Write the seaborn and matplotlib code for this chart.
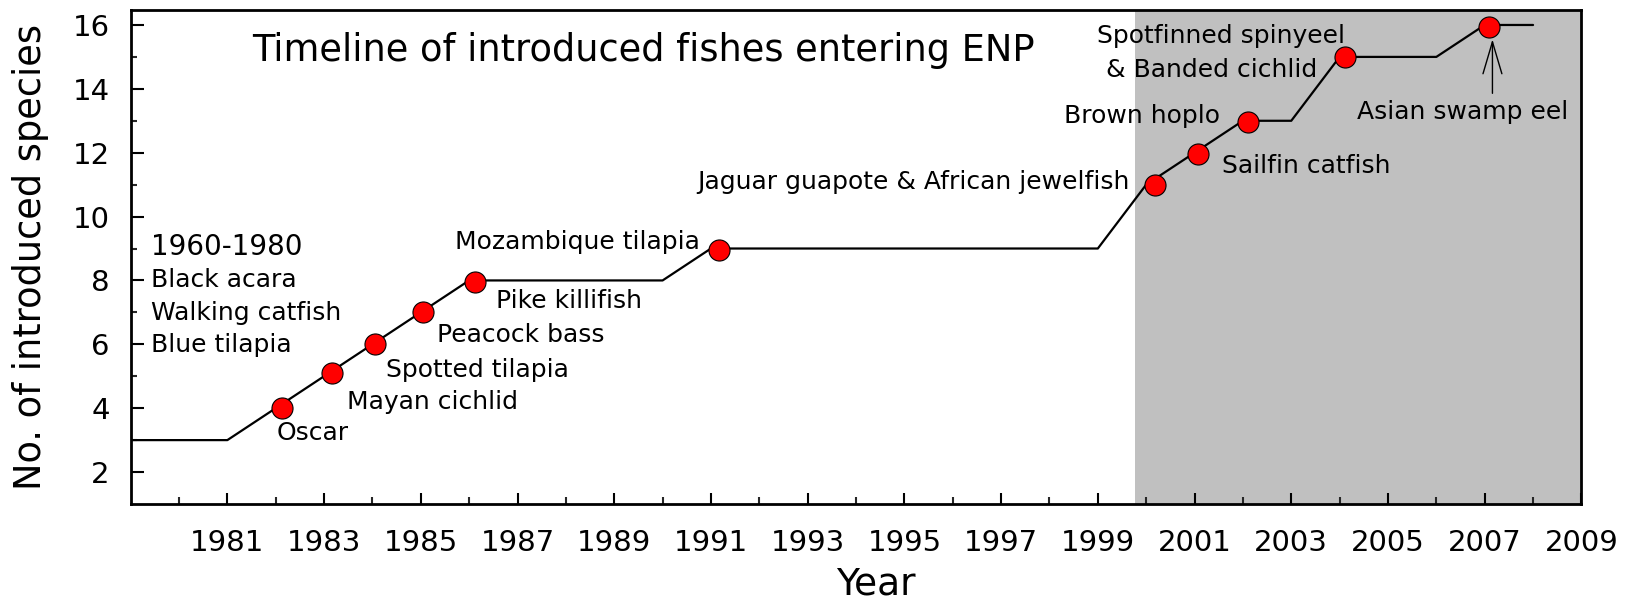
import matplotlib
matplotlib.use("Agg")
import matplotlib.pyplot as plt
from matplotlib.ticker import FixedLocator
import seaborn as sns
import numpy as np

# ---------------- data ----------------
line_years = [1979, 1981, 1986, 1990, 1991, 1999, 2000, 2001, 2002, 2003, 2004, 2006, 2007, 2008]
line_counts = [3, 3, 8, 8, 9, 9, 11, 12, 13, 13, 15, 15, 16, 16]

marker_years = [1982.13, 1983.16, 1984.06, 1985.04, 1986.13, 1991.16,
                2000.18, 2001.08, 2002.11, 2004.11, 2007.09]
marker_counts = [4, 5.1, 6, 7, 7.95, 8.95, 11, 11.95, 12.95, 15, 15.95]

species_labels = ["Oscar", "Mayan cichlid", "Spotted tilapia", "Peacock bass",
                  "Pike killifish", "Mozambique tilapia",
                  "Jaguar guapote & African jewelfish", "Sailfin catfish",
                  "Brown hoplo", "Spotfinned spinyeel", "& Banded cichlid",
                  "Asian swamp eel"]
early_header = "1960-1980"
early_species = ["Black acara", "Walking catfish", "Blue tilapia"]

xtick_major = list(range(1981, 2010, 2))
xtick_minor = list(range(1980, 2009, 2))
ytick_major = list(range(2, 17, 2))
ytick_minor = list(range(3, 16, 2))

title_text = "Timeline of introduced fishes entering ENP"
x_label = "Year"
y_label = "No. of introduced species"

# ---------------- layout ----------------
label_pos = [  # (x, baseline y, ha)
    (1982.01, 3.01, "left"),
    (1983.47, 3.98, "left"),
    (1984.29, 4.97, "left"),
    (1985.34, 6.06, "left"),
    (1986.56, 7.13, "left"),
    (1985.71, 8.98, "left"),
    (1990.72, 10.86, "left"),
    (2001.57, 11.36, "left"),
    (1998.31, 12.94, "left"),
    (2001.55, 15.43, "center"),
    (2001.35, 14.38, "center"),
    (2004.35, 13.05, "left"),
]
early_x = 1979.43
early_header_y = 8.80
early_y = [7.79, 6.77, 5.77]

sns.set_theme(style="white")
plt.rcParams['font.family'] = ['DejaVu Sans']
plt.rcParams['text.color'] = 'black'

fig = plt.figure(figsize=(16.31, 6.04), dpi=100)
ax = fig.add_axes([0.0801, 0.1656, 0.8895, 0.8179])

ax.axvspan(1999.77, 2009, color="#c0c0c0", zorder=0, lw=0)

sns.lineplot(x=line_years, y=line_counts, sort=False, color="black",
             linewidth=1.6, ax=ax, zorder=2)
sns.scatterplot(x=marker_years, y=marker_counts, s=230, color="#ff0000",
                edgecolor="black", linewidth=0.8, ax=ax, zorder=3)

ax.set_xlim(1979, 2009)
ax.set_ylim(1, 16.47)

ax.xaxis.set_major_locator(FixedLocator(xtick_major))
ax.xaxis.set_minor_locator(FixedLocator(xtick_minor))
ax.yaxis.set_major_locator(FixedLocator(ytick_major))
ax.yaxis.set_minor_locator(FixedLocator(ytick_minor))
ax.set_xticklabels([str(v) for v in xtick_major])
ax.set_yticklabels([str(v) for v in ytick_major])

ax.tick_params(axis="x", which="major", direction="in", length=8, width=1.5,
               bottom=True, top=False, labelsize=21, pad=18, colors="black")
ax.tick_params(axis="x", which="minor", direction="in", length=4.8, width=1.5,
               bottom=True, top=False)
ax.tick_params(axis="y", which="major", direction="in", length=9, width=1.5,
               left=True, right=False, labelsize=21, pad=15, colors="black")
ax.tick_params(axis="y", which="minor", direction="in", length=4.5, width=1.5,
               left=True, right=False)

for sp in ax.spines.values():
    sp.set_visible(True)
    sp.set_color("black")
    sp.set_linewidth(2)

ax.set_xlabel(x_label, fontsize=27, color="black")
ax.xaxis.set_label_coords(0.514, -0.2)
ax.xaxis.label.set_va("bottom")
ax.set_ylabel(y_label, fontsize=26.5, color="black")
ax.yaxis.set_label_coords(-0.0687, 0.499)
ax.yaxis.label.set_va("center")

ax.text(1981.51, 14.88, title_text, fontsize=26.5, ha="left", va="baseline")

for lab, (lx, ly, ha) in zip(species_labels, label_pos):
    ax.text(lx, ly, lab, fontsize=18, ha=ha, va="baseline", zorder=4)

ax.text(early_x, early_header_y, early_header, fontsize=20, ha="left", va="baseline")
for lab, ly in zip(early_species, early_y):
    ax.text(early_x, ly, lab, fontsize=18, ha="left", va="baseline")

ax.annotate("", xy=(2007.16, 15.55), xytext=(2007.16, 13.86),
            arrowprops=dict(arrowstyle="->,head_length=1.15,head_width=0.34",
                            lw=1.0, color="black", mutation_scale=20,
                            shrinkA=0, shrinkB=0), zorder=4)

fig.savefig("out.png", dpi=100)
